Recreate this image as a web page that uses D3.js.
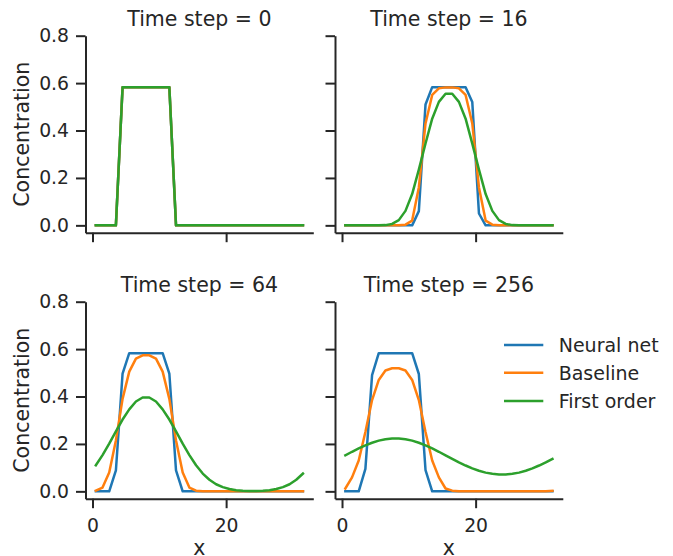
<!DOCTYPE html>
<html>
<head>
<meta charset="utf-8">
<script src="https://cdn.jsdelivr.net/npm/d3@7"></script>
<style>
  body { margin: 0; background: #fff; }
  svg { display: block; }
  text { font-family: "DejaVu Sans", sans-serif; fill: #262626; }
</style>
</head>
<body>
<svg id="chart" width="673" height="556"></svg>
<script>
// Cell centres along x
const xCells = [0.5, 1.5, 2.5, 3.5, 4.5, 5.5, 6.5, 7.5, 8.5, 9.5, 10.5, 11.5, 12.5, 13.5, 14.5, 15.5,
                16.5, 17.5, 18.5, 19.5, 20.5, 21.5, 22.5, 23.5, 24.5, 25.5, 26.5, 27.5, 28.5, 29.5, 30.5, 31.5];

const timeSteps = [0, 16, 64, 256];
const seriesNames = ["Neural net", "Baseline", "First order"];
const seriesColors = ["#1f77b4", "#ff7f0e", "#2ca02c"];

const yTicks = [0.0, 0.2, 0.4, 0.6, 0.8];
const xTicks = [0, 20];

// Time step 0: initial square pulse (identical for all methods)
const neuralNetT0 = [0, 0, 0, 0, 0.583, 0.583, 0.583, 0.583, 0.583, 0.583, 0.583, 0.583, 0, 0, 0, 0,
                     0, 0, 0, 0, 0, 0, 0, 0, 0, 0, 0, 0, 0, 0, 0, 0];
const baselineT0 = [0, 0, 0, 0, 0.583, 0.583, 0.583, 0.583, 0.583, 0.583, 0.583, 0.583, 0, 0, 0, 0,
                    0, 0, 0, 0, 0, 0, 0, 0, 0, 0, 0, 0, 0, 0, 0, 0];
const firstOrderT0 = [0, 0, 0, 0, 0.583, 0.583, 0.583, 0.583, 0.583, 0.583, 0.583, 0.583, 0, 0, 0, 0,
                      0, 0, 0, 0, 0, 0, 0, 0, 0, 0, 0, 0, 0, 0, 0, 0];

// Time step 16
const neuralNetT16 = [0, 0, 0, 0, 0, 0, 0, 0, 0, 0, 0, 0.06, 0.51, 0.583, 0.583, 0.583,
                      0.583, 0.583, 0.583, 0.52, 0.05, 0, 0, 0, 0, 0, 0, 0, 0, 0, 0, 0];
const baselineT16 = [0, 0, 0, 0, 0, 0, 0, 0, 0, 0.003, 0.02, 0.16, 0.43, 0.55, 0.578, 0.582,
                     0.582, 0.578, 0.55, 0.43, 0.16, 0.02, 0.003, 0, 0, 0, 0, 0, 0, 0, 0, 0];
const firstOrderT16 = [0, 0, 0, 0, 0, 0, 0.001, 0.006, 0.022, 0.061, 0.132, 0.235, 0.345, 0.45, 0.521, 0.555,
                       0.555, 0.521, 0.45, 0.345, 0.235, 0.132, 0.061, 0.022, 0.006, 0.001, 0, 0, 0, 0, 0, 0];

// Time step 64
const neuralNetT64 = [0, 0, 0, 0.088, 0.497, 0.583, 0.583, 0.583, 0.583, 0.583, 0.583, 0.497, 0.088, 0, 0, 0,
                      0, 0, 0, 0, 0, 0, 0, 0, 0, 0, 0, 0, 0, 0, 0, 0];
const baselineT64 = [0.003, 0.016, 0.08, 0.215, 0.39, 0.505, 0.56, 0.574, 0.574, 0.56, 0.505, 0.39, 0.215, 0.08, 0.016, 0.003,
                     0, 0, 0, 0, 0, 0, 0, 0, 0, 0, 0, 0, 0, 0, 0, 0];
const firstOrderT64 = [0.110, 0.153, 0.201, 0.253, 0.303, 0.346, 0.379, 0.396, 0.396, 0.379, 0.346, 0.303, 0.253, 0.201, 0.153, 0.110,
                       0.075, 0.049, 0.030, 0.018, 0.010, 0.005, 0.003, 0.002, 0.002, 0.003, 0.005, 0.010, 0.018, 0.030, 0.049, 0.075];

// Time step 256
const neuralNetT256 = [0, 0, 0, 0.095, 0.49, 0.583, 0.583, 0.583, 0.583, 0.583, 0.583, 0.495, 0.09, 0, 0, 0,
                       0, 0, 0, 0, 0, 0, 0, 0, 0, 0, 0, 0, 0, 0, 0, 0];
const baselineT256 = [0.012, 0.059, 0.13, 0.25, 0.385, 0.47, 0.51, 0.519, 0.519, 0.51, 0.47, 0.385, 0.25, 0.13, 0.059, 0.012,
                      0.003, 0, 0, 0, 0, 0, 0, 0, 0, 0, 0, 0, 0, 0, 0, 0.002];
const firstOrderT256 = [0.152, 0.167, 0.181, 0.194, 0.205, 0.214, 0.220, 0.223, 0.223, 0.220, 0.214, 0.205, 0.194, 0.181, 0.167, 0.152,
                        0.137, 0.122, 0.109, 0.097, 0.087, 0.079, 0.074, 0.071, 0.071, 0.074, 0.079, 0.087, 0.097, 0.109, 0.122, 0.137];

const panelSeries = [
  [neuralNetT0, baselineT0, firstOrderT0],
  [neuralNetT16, baselineT16, firstOrderT16],
  [neuralNetT64, baselineT64, firstOrderT64],
  [neuralNetT256, baselineT256, firstOrderT256]
];

// Layout
const colLeft = [85.5, 335];
const rowTop = [35.7, 301.7];
const panelW = 227.8;
const panelH = 197;
const tickLen = 9.5;
const ink = "#262626";

const svg = d3.select("#chart");

panelSeries.forEach((series, i) => {
  const col = i % 2, row = Math.floor(i / 2);
  const left = colLeft[col], top = rowTop[row];

  const x = d3.scaleLinear().domain([-1.05, 33.05]).range([left, left + panelW]);
  const y = d3.scaleLinear().domain([-0.031, 0.8]).range([top + panelH, top]);

  const g = svg.append("g");

  // Left axis
  const yAxis = d3.axisLeft(y).tickValues(yTicks).tickSize(tickLen).tickSizeOuter(0).tickPadding(7)
    .tickFormat(col === 0 ? d3.format(".1f") : () => "");
  const ya = g.append("g").attr("transform", `translate(${left},0)`).call(yAxis);

  // Bottom axis
  const xAxis = d3.axisBottom(x).tickValues(xTicks).tickSize(tickLen).tickSizeOuter(0).tickPadding(10.5)
    .tickFormat(row === 1 ? d3.format("d") : () => "");
  const xa = g.append("g").attr("transform", `translate(0,${top + panelH})`).call(xAxis);

  [ya, xa].forEach(a => {
    a.select(".domain").attr("stroke", ink).attr("stroke-width", 2);
    a.selectAll(".tick line").attr("stroke", ink).attr("stroke-width", 2);
    a.selectAll(".tick text").attr("font-size", 18.8).attr("fill", ink)
      .style("font-family", '"DejaVu Sans", sans-serif');
  });

  // Lines
  const line = d3.line().x((d, j) => x(xCells[j])).y(d => y(d));
  series.forEach((vals, k) => {
    g.append("path")
      .datum(vals)
      .attr("d", line)
      .attr("fill", "none")
      .attr("stroke", seriesColors[k])
      .attr("stroke-width", 2.5)
      .attr("stroke-linejoin", "round")
      .attr("stroke-linecap", "square");
  });

  // Title
  g.append("text")
    .attr("x", left + panelW / 2)
    .attr("y", top - 9.7)
    .attr("text-anchor", "middle")
    .attr("font-size", 20.5)
    .text(`Time step = ${timeSteps[i]}`);

  if (col === 0) {
    g.append("text")
      .attr("transform", `translate(28.5,${top + panelH / 2}) rotate(-90)`)
      .attr("text-anchor", "middle")
      .attr("font-size", 20.5)
      .text("Concentration");
  }
  if (row === 1) {
    g.append("text")
      .attr("x", left + panelW / 2)
      .attr("y", 554.5)
      .attr("text-anchor", "middle")
      .attr("font-size", 20.5)
      .text("x");
  }
});

// Legend
const legendY = [345, 372.7, 401];
const legend = svg.append("g");
seriesNames.forEach((name, k) => {
  legend.append("line")
    .attr("x1", 504).attr("x2", 543.3)
    .attr("y1", legendY[k]).attr("y2", legendY[k])
    .attr("stroke", seriesColors[k]).attr("stroke-width", 2.5);
  legend.append("text")
    .attr("x", 558.7).attr("y", legendY[k] + 6.8)
    .attr("font-size", 19)
    .text(name);
});
</script>
</body>
</html>
